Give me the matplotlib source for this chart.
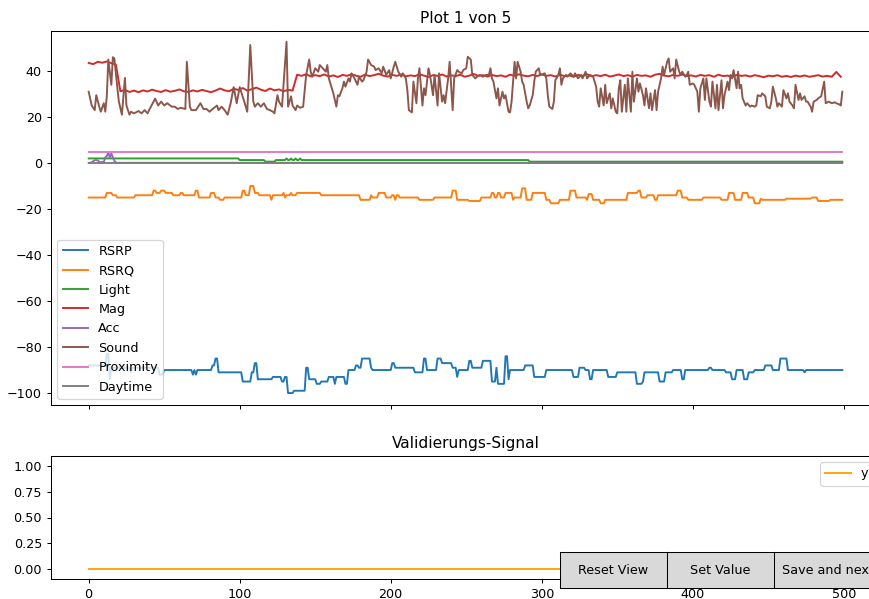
import numpy as np
import matplotlib
matplotlib.use("Agg")
import matplotlib.pyplot as plt
from matplotlib.widgets import Button


# ============================================
# SENSOR LABELING VIEW - SEGMENT 1
# ============================================

n_samples = 500

# step-like signals: index where a level starts, and the level
rsrp_start = [0, 12, 14, 15, 28, 29, 47, 50, 69, 70, 71, 72, 82, 84, 86, 102, 108, 110, 112,
              122, 128, 130, 132, 136, 144, 146, 151, 154, 159, 163, 164, 170, 172, 177, 179,
              181, 187, 188, 201, 203, 216, 222, 224, 231, 234, 241, 244, 245, 252, 254, 261,
              267, 270, 271, 276, 278, 279, 289, 295, 303, 321, 325, 329, 332, 334, 344, 350,
              363, 367, 368, 378, 382, 387, 393, 395, 411, 413, 422, 426, 429, 434, 437, 441,
              448, 453, 458, 463, 474, 475]
rsrp_level = [-88, -83, -94, -89, -91, -89, -92, -90, -92, -90, -92, -90, -88, -85, -91, -95, -91,
              -87, -94, -93, -95, -93, -100, -99, -89, -94, -96, -95, -93, -96, -93, -96, -90,
              -88, -89, -85, -89, -90, -87, -89, -91, -85, -90, -85, -87, -89, -93, -90, -86,
              -89, -86, -95, -89, -96, -84, -94, -90, -88, -93, -90, -93, -89, -90, -94, -90,
              -93, -91, -96, -95, -91, -95, -91, -90, -94, -90, -89, -90, -91, -94, -90, -94,
              -91, -90, -88, -90, -85, -90, -91, -90]

rsrq_start = [0, 12, 16, 19, 31, 43, 45, 48, 51, 56, 61, 63, 71, 73, 81, 84, 87, 90, 102, 104,
              107, 110, 113, 121, 122, 129, 130, 131, 134, 135, 138, 154, 180, 187, 188, 192,
              197, 201, 203, 204, 206, 219, 229, 241, 244, 252, 260, 267, 269, 271, 273, 276,
              281, 282, 287, 290, 294, 303, 306, 312, 319, 323, 330, 331, 334, 339, 342, 357,
              364, 366, 370, 375, 377, 390, 393, 397, 407, 419, 424, 428, 433, 437, 441, 445,
              446, 462, 479, 483, 491]
rsrq_level = [-15, -13, -14, -15, -14, -12, -13, -12, -13, -14, -13, -14, -12, -15, -13, -15, -16,
              -15, -12, -14, -10, -13, -14, -16, -14, -13, -15, -14, -13, -14, -13, -14, -16,
              -14, -15, -13, -15, -14, -16, -14, -15, -16, -15, -12, -16, -16.5, -15, -13, -15,
              -13, -15, -13, -16, -15, -11, -16, -13, -16, -17.5, -16, -12, -15, -16, -13.5,
              -16, -17.5, -16, -13, -12, -15, -14, -16, -14, -12, -15, -16, -15, -16, -13, -16,
              -13, -15, -17.5, -15.5, -16, -15.5, -15, -16.5, -16]

light_start = [0, 100, 117, 124, 131, 132, 134, 135, 137, 138, 140, 141, 292]
light_level = [2.0, 1.3, 0.6, 1.3, 2.0, 1.3, 2.0, 1.3, 2.0, 1.3, 2.0, 1.3, 0.6]

# accelerometer only moves at the very start
acc_head = [0.1, 0.1, 0.3, 0.8, 1.2, 1.3, 1.1, 0.5, 0.3, 0.5, 0.4, 2.5, 3.0, 4.6, 2.4, 4.2,
            2.5, 1.0, 0.2]
acc_rest = 0.1

proximity_level = 5.0
daytime_level = 0.0

# magnetometer, every third sample (last one is sample 499)
mag_y = [43.5, 43.0, 44.0, 43.6, 44.2, 43.4, 42.8,
         31.2, 31.8, 30.9, 31.5, 30.8, 31.6, 31.1, 31.9, 31.3, 30.9, 31.7, 31.0, 31.4, 32.0,
         31.2, 30.9, 31.6, 31.1, 31.8, 31.3, 30.8, 31.5, 32.4, 31.6, 31.2, 32.3, 31.8, 32.6,
         31.5, 32.1, 32.8, 31.9, 31.3, 32.4, 31.6, 32.0, 31.2, 31.8, 31.5,
         38.4, 37.9, 38.6, 37.7, 38.2, 37.8, 38.5, 37.6, 38.1, 37.4, 38.3, 37.9, 38.6, 38.0,
         37.5, 38.4, 37.8, 38.2, 38.8, 38.0, 37.6, 38.3, 37.9, 38.5, 37.7, 38.1, 37.8, 38.6,
         38.0, 37.4, 38.2, 37.9, 38.5, 37.6, 38.1, 37.8, 38.4, 37.5, 38.0, 38.7, 37.9, 38.2,
         37.6, 38.3, 37.8, 38.1, 37.5, 38.4, 37.9, 38.6, 38.0, 37.7, 38.3, 37.8, 38.5, 37.9,
         38.2, 37.6, 38.4, 37.8, 38.1, 37.5, 38.3, 37.9, 38.6, 37.7, 38.2, 37.8, 38.4, 37.6,
         38.0, 38.5, 37.8, 38.2, 37.6, 38.3, 37.9, 38.1, 37.5, 38.4, 38.8, 38.0, 37.7, 38.3,
         37.9, 38.5, 37.8, 38.1, 37.6, 38.3, 37.9, 38.2, 37.5, 38.4, 37.8, 38.0, 37.4, 38.3,
         37.9, 38.1, 37.6, 38.2, 37.8, 37.3, 38.0, 37.7, 38.2, 37.5, 37.9, 37.4, 38.0, 37.6,
         38.1, 37.5, 37.8, 38.2, 37.6, 37.9, 37.5, 39.6, 37.5]

# microphone level, sample index -> value
sound_x = [0, 2, 4, 5, 7, 8, 10, 11, 12, 13, 15, 16, 17, 19, 20, 22, 24, 25, 27, 28, 30, 33, 35,
           37, 39, 40, 43, 44, 46, 48, 50, 52, 55, 57, 59, 61, 64, 65, 67, 68, 71, 72, 74, 76,
           78, 80, 82, 85, 86, 88, 90, 92, 94, 96, 98, 100, 103, 105, 107, 109, 110, 112, 114,
           116, 118, 120, 122, 123, 125, 126, 128, 129, 131, 132, 134, 135, 137, 138, 140, 142,
           144, 146, 147, 148, 150, 152, 153, 155, 157, 158, 159, 161, 162, 164, 165, 166, 168,
           169, 170, 172, 173, 174, 176, 178, 179, 181, 182, 184, 185, 187, 189, 190, 192, 194,
           195, 197, 199, 200, 202, 203, 205, 207, 208, 210, 211, 212, 214, 215, 217, 218, 219,
           221, 222, 223, 225, 226, 228, 229, 231, 232, 234, 235, 236, 238, 239, 241, 242, 244,
           245, 247, 248, 250, 251, 253, 254, 256, 257, 259, 261, 263, 265, 266, 267, 268, 270,
           271, 272, 274, 275, 276, 278, 279, 280, 282, 283, 284, 286, 287, 288, 290, 291, 292,
           294, 295, 296, 298, 299, 302, 303, 304, 305, 307, 308, 309, 311, 312, 313, 314, 316,
           317, 319, 321, 322, 324, 326, 327, 329, 330, 332, 334, 336, 337, 338, 339, 341, 342,
           343, 345, 346, 347, 349, 350, 351, 352, 353, 355, 356, 357, 359, 360, 361, 363, 364,
           365, 367, 368, 369, 371, 372, 373, 375, 376, 377, 379, 380, 381, 383, 384, 385, 387,
           388, 389, 391, 392, 393, 395, 396, 397, 398, 400, 401, 403, 404, 405, 407, 408, 409,
           411, 412, 413, 415, 416, 417, 419, 420, 421, 423, 424, 425, 426, 427, 429, 430, 431,
           432, 433, 435, 436, 438, 439, 441, 442, 443, 445, 446, 448, 449, 451, 452, 453, 455,
           456, 457, 459, 460, 462, 463, 464, 466, 467, 468, 470, 471, 472, 474, 475, 476, 478,
           479, 480, 482, 483, 485, 487, 488, 490, 492, 494, 495, 497, 498, 499]
sound_y = [31, 25, 23, 29.5, 24.5, 22.3, 26, 22.3, 29, 45, 34, 46, 45.5, 32.5, 26.7, 21, 37, 25,
           21, 22.3, 21.6, 22.6, 21.6, 23, 21.6, 23, 26.7, 28, 25, 26.7, 25, 26, 24.5, 24.5, 23.5,
           24, 23.5, 44, 24.5, 23, 23, 24, 26, 23.5, 23.5, 22.3, 23.5, 25, 23, 24.5, 23, 21, 26,
           33, 26, 33, 26.7, 22.3, 51.3, 26.7, 24.5, 26, 24.5, 26, 23.5, 23, 22.3, 21.6, 29.5,
           26.7, 24.5, 34, 52.7, 24.5, 29, 25, 23, 25, 24, 24.5, 38.3, 45, 39.7, 37.5, 41.2,
           39.7, 42.6, 41.2, 39.7, 42.6, 36.8, 32.5, 30.3, 24.5, 29.5, 29, 32.5, 35.4, 33.2,
           36.8, 35.4, 39, 36.8, 34, 37.5, 35.4, 36.1, 39.7, 45, 42.6, 41.9, 40.4, 41.2, 39,
           41.9, 38.3, 40.4, 36.8, 41.9, 44, 39.7, 37.5, 39, 36.8, 31.7, 23, 22, 35.4, 26, 36.8,
           41.2, 25, 32.5, 29.5, 41.2, 38.3, 29.5, 38.3, 25, 39, 26.7, 29.5, 26, 36.8, 44, 23,
           36.8, 40.4, 39.7, 39, 40.4, 41.2, 46.2, 45, 38.3, 36.8, 37.5, 38.3, 37.5, 38.3, 38.3,
           41.2, 36.8, 35.4, 28.1, 32.5, 25, 31, 28.1, 29.5, 22.3, 22, 26.7, 44, 36.8, 44, 39.7,
           35.4, 34, 26.7, 23.8, 25, 29.5, 35.4, 39.7, 41.2, 38.3, 39, 36.8, 29.5, 24.5, 23.5,
           26.7, 36, 38.3, 41.2, 34, 36.8, 38.3, 37.5, 39, 37.5, 39, 36.8, 38.3, 36.8, 39.7,
           36.8, 38.3, 37.5, 33.2, 26.7, 24.5, 32.5, 25, 34, 26, 30.3, 23.8, 28.1, 22.3, 21.6,
           32.5, 36, 22.3, 34, 22.3, 36.8, 22.3, 39.7, 26.7, 36.8, 31, 34.6, 29.5, 25, 32.5, 23.8,
           30.3, 23, 31.7, 23, 31, 36.8, 41.9, 38.3, 44, 45.5, 39.7, 41.2, 36.8, 45, 39.7, 38.3,
           39.7, 37.5, 38.3, 39.7, 34, 34.6, 34, 31, 22.3, 32.5, 36.8, 27.4, 36.8, 26.7, 24.5,
           35.4, 23.8, 34, 23, 36, 23.8, 29.5, 35.4, 31.7, 38.3, 36.8, 40.4, 32.5, 39.7, 32.5,
           34, 28.1, 25, 26, 24.5, 25, 24.5, 25, 29.5, 29, 30.3, 29, 24.5, 23.8, 26.7, 33.2, 28.1,
           24.5, 26, 24.5, 31.7, 28.1, 30.3, 26.7, 25, 23.8, 34, 27.4, 30.3, 27.4, 29, 26.7, 26.7,
           24.5, 22.3, 26.7, 27.4, 28.1, 29, 35.4, 26, 26.7, 26, 26.4, 26, 25.5, 25, 31]

# validation signal (nothing labelled yet)
val_y = [0.0] * n_samples


def steps(starts, levels, n):
    """Expands (start index, level) pairs into a full-length signal."""
    lengths = np.diff(starts + [n])
    return np.repeat(levels, lengths)


t = np.arange(n_samples)
rsrp = steps(rsrp_start, rsrp_level, n_samples)
rsrq = steps(rsrq_start, rsrq_level, n_samples)
light = steps(light_start, light_level, n_samples)
acc = np.array(acc_head + [acc_rest] * (n_samples - len(acc_head)))
proximity = np.full(n_samples, proximity_level)
daytime = np.full(n_samples, daytime_level)
mag_x = np.minimum(np.arange(len(mag_y)) * 3, n_samples - 1)

dpi = 92
fig = plt.figure(figsize=(869 / dpi, 599 / dpi), dpi=dpi)

# axes run past the right edge of the window, like in the tool
ax1 = fig.add_axes([51 / 869, 194 / 599, 829 / 869, 374 / 599])
ax2 = fig.add_axes([51 / 869, 20 / 599, 829 / 869, 123 / 599], sharex=ax1)

ax1.plot(t, rsrp, label="RSRP")
ax1.plot(t, rsrq, label="RSRQ")
ax1.plot(t, light, label="Light")
ax1.plot(mag_x, mag_y, label="Mag")
ax1.plot(t, acc, label="Acc")
ax1.plot(sound_x, sound_y, label="Sound")
ax1.plot(t, proximity, label="Proximity")
ax1.plot(t, daytime, label="Daytime")
ax1.set_ylim(-105.2, 57.4)
ax1.set_title("Plot 1 von 5")
ax1.legend(loc="lower left")
ax1.tick_params(labelbottom=False)

ax2.plot(t, val_y, color="orange", label="y")
ax2.set_ylim(-0.1, 1.1)
ax2.set_yticks([0.0, 0.25, 0.5, 0.75, 1.0])
ax2.set_title("Validierungs-Signal")
ax2.legend(loc="upper right")
ax2.set_xticks([0, 100, 200, 300, 400, 500])

# control buttons
btn_w = 107 / 869
btn_h = 36 / 599
btn_y = 11 / 599
ax_reset = fig.add_axes([560 / 869, btn_y, btn_w, btn_h])
ax_set = fig.add_axes([667 / 869, btn_y, btn_w, btn_h])
ax_next = fig.add_axes([774 / 869, btn_y, btn_w, btn_h])
btn_reset = Button(ax_reset, "Reset View")
btn_set = Button(ax_set, "Set Value")
btn_next = Button(ax_next, "Save and next")

fig.savefig("out.png", dpi=dpi)
